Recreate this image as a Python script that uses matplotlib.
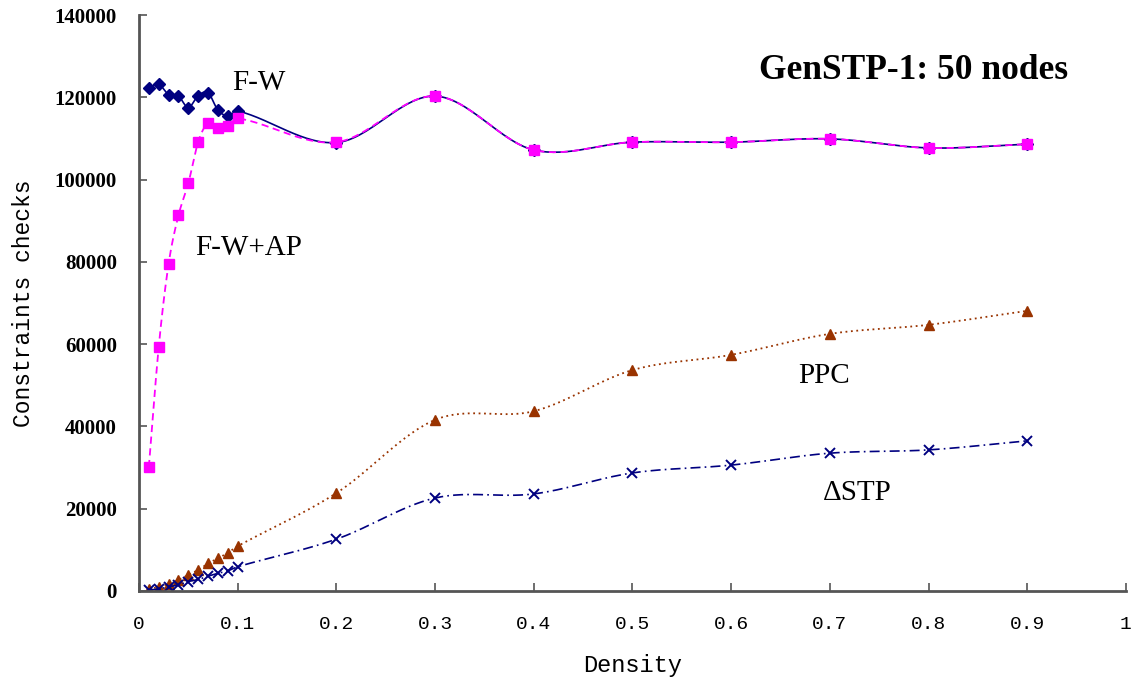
import numpy as np
import matplotlib
matplotlib.use("Agg")
import matplotlib.pyplot as plt

density = [0.01, 0.02, 0.03, 0.04, 0.05, 0.06, 0.07, 0.08, 0.09, 0.1,
           0.2, 0.3, 0.4, 0.5, 0.6, 0.7, 0.8, 0.9]
fw = [122200, 123200, 120600, 120300, 117500, 120400, 121100, 116900, 115500, 116700,
      109000, 120300, 107200, 109100, 109100, 109900, 107700, 108600]
fw_ap = [30100, 59300, 79500, 91300, 99100, 109200, 113700, 112500, 113100, 114900,
         109100, 120300, 107200, 109100, 109100, 109900, 107700, 108600]
ppc = [400, 1000, 1700, 2700, 3900, 5100, 6700, 7900, 9300, 10900,
       23800, 41600, 43700, 53700, 57400, 62500, 64700, 68100]
dstp = [200, 500, 1000, 1500, 2300, 2800, 3600, 4300, 4900, 5900,
        12600, 22600, 23600, 28700, 30600, 33500, 34300, 36500]

xticks = [0, 0.1, 0.2, 0.3, 0.4, 0.5, 0.6, 0.7, 0.8, 0.9, 1]
xticklabels = ["0", "0.1", "0.2", "0.3", "0.4", "0.5", "0.6", "0.7", "0.8", "0.9", "1"]
yticks = [0, 20000, 40000, 60000, 80000, 100000, 120000, 140000]


def smooth(x, y, n=30):
    """Cubic Hermite curve through the points (x-parametrised Catmull-Rom)."""
    x = np.asarray(x, float)
    y = np.asarray(y, float)
    m = np.zeros_like(y)
    m[1:-1] = (y[2:] - y[:-2]) / (x[2:] - x[:-2])
    m[0] = (y[1] - y[0]) / (x[1] - x[0])
    m[-1] = (y[-1] - y[-2]) / (x[-1] - x[-2])
    xs, ys = [], []
    for i in range(len(x) - 1):
        h = x[i + 1] - x[i]
        t = np.linspace(0, 1, n, endpoint=(i == len(x) - 2))
        h00 = 2 * t**3 - 3 * t**2 + 1
        h10 = t**3 - 2 * t**2 + t
        h01 = -2 * t**3 + 3 * t**2
        h11 = t**3 - t**2
        xs.append(x[i] + t * h)
        ys.append(h00 * y[i] + h10 * h * m[i] + h01 * y[i + 1] + h11 * h * m[i + 1])
    return np.concatenate(xs), np.concatenate(ys)


fig = plt.figure(figsize=(11.41, 6.83), dpi=100)
ax = fig.add_axes([0.1218, 0.1347, 0.865, 0.8433])

navy = "#000080"
magenta = "#FF00FF"
brown = "#993300"

sx, sy = smooth(density, fw)
ax.plot(sx, sy, color=navy, lw=1.2, ls="-")
ax.plot(density, fw, ls="none", marker="D", ms=6.5, color=navy)

sx, sy = smooth(density, fw_ap)
ax.plot(sx, sy, color=magenta, lw=1.3, ls=(0, (4, 2.5)))
ax.plot(density, fw_ap, ls="none", marker="s", ms=7, color=magenta)

sx, sy = smooth(density, ppc)
ax.plot(sx, sy, color=brown, lw=1.3, ls=(0, (1, 2)))
ax.plot(density, ppc, ls="none", marker="^", ms=7, color=brown)

sx, sy = smooth(density, dstp)
ax.plot(sx, sy, color=navy, lw=1.2, ls=(0, (6, 2.5, 1, 2.5)))
ax.plot(density, dstp, ls="none", marker="x", ms=6.5, mew=1.4, color=navy)

ax.set_xlim(0, 1)
ax.set_ylim(0, 140000)
ax.set_xticks(xticks)
ax.set_xticklabels(xticklabels, fontfamily="Liberation Mono", fontsize=14)
ax.set_yticks(yticks)
ax.set_yticklabels([str(v) for v in yticks], fontfamily="Liberation Serif",
                   fontweight="bold", fontsize=15)
ax.tick_params(axis="both", direction="in", length=6, width=1.2, color="#555555")
ax.tick_params(axis="y", pad=16)
ax.tick_params(axis="x", pad=18)

for s in ["top", "right"]:
    ax.spines[s].set_visible(False)
for s in ["left", "bottom"]:
    ax.spines[s].set_color("#555555")
    ax.spines[s].set_linewidth(2)

ax.set_xlabel("Density", fontfamily="Liberation Mono", fontsize=17, labelpad=15)
ax.set_ylabel("Constraints checks", fontfamily="Liberation Mono", fontsize=16.5, labelpad=14)

serif = "Liberation Serif"
ax.text(0.121, 123500, "F-W", fontfamily=serif, fontsize=21, ha="center", va="center")
ax.text(0.111, 83400, "F-W+AP", fontfamily=serif, fontsize=21, ha="center", va="center")
ax.text(0.694, 52300, "PPC", fontfamily=serif, fontsize=21, ha="center", va="center")
ax.text(0.728, 23800, "\u0394STP", fontfamily=serif, fontsize=21, ha="center", va="center")
ax.text(0.785, 126500, "GenSTP-1: 50 nodes", fontfamily=serif, fontsize=25.5,
        fontweight="bold", ha="center", va="center")

fig.savefig("out.png", dpi=100)
